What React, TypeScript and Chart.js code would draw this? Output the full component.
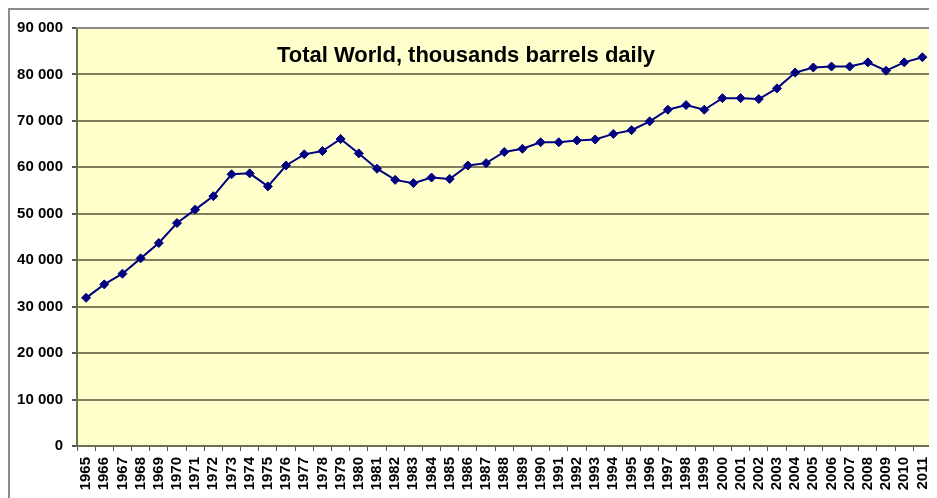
import React, { useEffect, useRef } from "react";
import { Chart, registerables } from "chart.js";

Chart.register(...registerables);

// Years on the category axis
const years = [
  "1965", "1966", "1967", "1968", "1969", "1970", "1971", "1972", "1973", "1974",
  "1975", "1976", "1977", "1978", "1979", "1980", "1981", "1982", "1983", "1984",
  "1985", "1986", "1987", "1988", "1989", "1990", "1991", "1992", "1993", "1994",
  "1995", "1996", "1997", "1998", "1999", "2000", "2001", "2002", "2003", "2004",
  "2005", "2006", "2007", "2008", "2009", "2010", "2011",
];

// World oil consumption, thousand barrels per day
const consumption = [
  31900, 34800, 37100, 40400, 43700, 48000, 50900, 53800, 58500, 58700,
  55900, 60400, 62800, 63500, 66100, 63000, 59700, 57300, 56600, 57800,
  57500, 60400, 60900, 63300, 64000, 65400, 65400, 65800, 66000, 67200,
  68000, 69900, 72400, 73400, 72400, 74900, 74900, 74700, 77000, 80400,
  81500, 81700, 81700, 82600, 80800, 82600, 83700,
];

const chartTitle = "Total World, thousands barrels daily";

const FONT = "'Liberation Sans', Arial, sans-serif";

const formatThousands = (v: number) =>
  String(v).replace(/\B(?=(\d{3})+(?!\d))/g, " ");

// Light yellow plot area with a grey frame, plus the caption inside it
const plotAreaPlugin = {
  id: "plotArea",
  beforeDraw(chart: any) {
    const { ctx, chartArea: a } = chart;
    ctx.save();
    ctx.fillStyle = "#ffffcc";
    ctx.fillRect(a.left, a.top, a.right - a.left, a.bottom - a.top);
    ctx.restore();
  },
  beforeDatasetsDraw(chart: any) {
    const { ctx, chartArea: a } = chart;
    ctx.save();
    ctx.strokeStyle = "#8c8c8c";
    ctx.lineWidth = 2;
    ctx.beginPath();
    ctx.moveTo(a.left, a.top);
    ctx.lineTo(a.right, a.top);
    ctx.lineTo(a.right, a.bottom);
    ctx.stroke();
    ctx.restore();
  },
  afterDraw(chart: any) {
    const { ctx, chartArea: a } = chart;
    ctx.save();
    ctx.fillStyle = "#000000";
    ctx.font = `bold 22px ${FONT}`;
    ctx.textAlign = "center";
    ctx.textBaseline = "alphabetic";
    ctx.fillText(chartTitle, a.left + 389, a.top + 34);
    ctx.restore();
  },
};

export default function App() {
  const canvasRef = useRef<HTMLCanvasElement | null>(null);

  useEffect(() => {
    if (!canvasRef.current) return;
    const chart = new Chart(canvasRef.current, {
      type: "line",
      data: {
        labels: years,
        datasets: [
          {
            data: consumption,
            borderColor: "#000080",
            backgroundColor: "#000080",
            borderWidth: 2,
            pointStyle: "rectRot",
            pointRadius: 4.5,
            pointBorderWidth: 1,
            tension: 0,
          },
        ],
      },
      plugins: [plotAreaPlugin],
      options: {
        responsive: false,
        animation: false,
        layout: { padding: { top: 18, right: 4, left: 0, bottom: 0 } },
        plugins: {
          legend: { display: false },
          title: { display: false },
          tooltip: { enabled: false },
        },
        scales: {
          x: {
            type: "category",
            offset: true,
            grid: {
              offset: true,
              drawOnChartArea: false,
              drawTicks: true,
              tickLength: 5,
              tickColor: "#555555",
            },
            border: { color: "#6f6f50", width: 2 },
            ticks: {
              autoSkip: false,
              minRotation: 90,
              maxRotation: 90,
              padding: 6,
              color: "#000000",
              font: { family: FONT, size: 15, weight: "bold" },
            },
            afterFit(scale: any) {
              scale.height = 52;
              scale.paddingLeft = 0;
              scale.paddingRight = 0;
            },
          },
          y: {
            min: 0,
            max: 90000,
            grid: {
              color: "#7f7f5c",
              lineWidth: 2,
              drawTicks: true,
              tickLength: 5,
              tickColor: "#555555",
            },
            border: { color: "#6f6f50", width: 2 },
            ticks: {
              stepSize: 10000,
              padding: 9,
              color: "#000000",
              font: { family: FONT, size: 15, weight: "bold" },
              callback: (v: any) => formatThousands(Number(v)),
            },
            afterFit(scale: any) {
              scale.width = 67;
              scale.paddingTop = 0;
              scale.paddingBottom = 0;
            },
          },
        },
      },
    });
    return () => chart.destroy();
  }, []);

  return (
    <div
      style={{
        width: 929,
        height: 490,
        boxSizing: "border-box",
        borderLeft: "2px solid #8c8c8c",
        borderTop: "2px solid #8c8c8c",
        background: "#ffffff",
        overflow: "hidden",
      }}
    >
      <canvas ref={canvasRef} width={927} height={488} style={{ display: "block" }} />
    </div>
  );
}
